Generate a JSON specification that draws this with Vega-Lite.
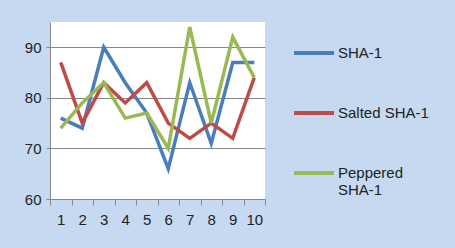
{
  "$schema": "https://vega.github.io/schema/vega-lite/v6.json",
  "width": 215,
  "height": 177,
  "autosize": {"type": "none"},
  "padding": {"left": 50, "top": 22, "right": 190, "bottom": 49},
  "background": "#C6D9F0",
  "config": {
    "view": {"fill": "white", "stroke": null},
    "font": "Liberation Sans"
  },
  "data": {
    "values": [
      {"x": 1, "s": "SHA-1", "v": 76}, {"x": 2, "s": "SHA-1", "v": 74}, {"x": 3, "s": "SHA-1", "v": 90}, {"x": 4, "s": "SHA-1", "v": 83}, {"x": 5, "s": "SHA-1", "v": 77},
      {"x": 6, "s": "SHA-1", "v": 66}, {"x": 7, "s": "SHA-1", "v": 83}, {"x": 8, "s": "SHA-1", "v": 71}, {"x": 9, "s": "SHA-1", "v": 87}, {"x": 10, "s": "SHA-1", "v": 87},
      {"x": 1, "s": "Salted SHA-1", "v": 87}, {"x": 2, "s": "Salted SHA-1", "v": 75}, {"x": 3, "s": "Salted SHA-1", "v": 83}, {"x": 4, "s": "Salted SHA-1", "v": 79}, {"x": 5, "s": "Salted SHA-1", "v": 83},
      {"x": 6, "s": "Salted SHA-1", "v": 75}, {"x": 7, "s": "Salted SHA-1", "v": 72}, {"x": 8, "s": "Salted SHA-1", "v": 75}, {"x": 9, "s": "Salted SHA-1", "v": 72}, {"x": 10, "s": "Salted SHA-1", "v": 84},
      {"x": 1, "s": "Peppered SHA-1", "v": 74}, {"x": 2, "s": "Peppered SHA-1", "v": 79}, {"x": 3, "s": "Peppered SHA-1", "v": 83}, {"x": 4, "s": "Peppered SHA-1", "v": 76}, {"x": 5, "s": "Peppered SHA-1", "v": 77},
      {"x": 6, "s": "Peppered SHA-1", "v": 70}, {"x": 7, "s": "Peppered SHA-1", "v": 94}, {"x": 8, "s": "Peppered SHA-1", "v": 75}, {"x": 9, "s": "Peppered SHA-1", "v": 92}, {"x": 10, "s": "Peppered SHA-1", "v": 84}
    ]
  },
  "mark": {"type": "line", "strokeWidth": 3.5, "strokeJoin": "miter"},
  "encoding": {
    "x": {
      "field": "x", "type": "ordinal", "sort": null,
      "scale": {"paddingInner": 0, "paddingOuter": 0},
      "axis": {
        "title": null, "labelAngle": 0, "bandPosition": 0, "tickBand": "extent",
        "grid": false, "domainColor": "#868686", "tickColor": "#868686", "tickSize": 6,
        "labelFontSize": 15, "labelColor": "#222222", "labelPadding": 7, "labelBound": false, "labelOverlap": false
      }
    },
    "y": {
      "field": "v", "type": "quantitative",
      "scale": {"domain": [60, 95], "nice": false, "zero": false},
      "axis": {
        "title": null, "values": [60, 70, 80, 90], "grid": true, "gridColor": "#878787",
        "domainColor": "#868686", "tickColor": "#868686", "tickSize": 4,
        "labelFontSize": 15, "labelColor": "#222222", "labelPadding": 5
      }
    },
    "color": {
      "field": "s", "type": "nominal",
      "scale": {"domain": ["SHA-1", "Salted SHA-1", "Peppered SHA-1"], "range": ["#4A7EBB", "#BE4B48", "#98B954"]},
      "legend": {
        "title": null, "orient": "none", "legendX": 242, "legendY": 9,
        "symbolType": "stroke", "symbolSize": 1600, "symbolStrokeWidth": 4,
        "labelFontSize": 15, "labelColor": "#222222", "labelOffset": 2, "rowPadding": 30,
        "labelExpr": "datum.label == 'Peppered SHA-1' ? ['Peppered', 'SHA-1'] : datum.label"
      }
    }
  }
}
